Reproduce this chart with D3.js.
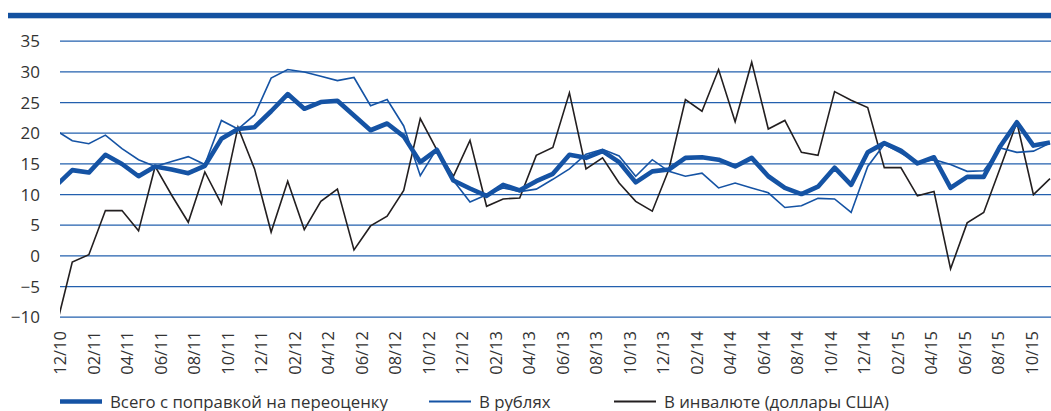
<!DOCTYPE html>
<html>
<head>
<meta charset="utf-8">
<script src="https://cdn.jsdelivr.net/npm/d3@7"></script>
<style>
  body { margin: 0; background: #fff; }
  svg { display: block; }
  text { font-family: "Open Sans", "Noto Sans", sans-serif; fill: #333; }
</style>
</head>
<body>
<div class="chart"></div>
<script>
/* months shown on the chart, 12/10 .. 12/15 */
const months = [
  "12/10",
  "01/11","02/11","03/11","04/11","05/11","06/11","07/11","08/11","09/11","10/11","11/11","12/11",
  "01/12","02/12","03/12","04/12","05/12","06/12","07/12","08/12","09/12","10/12","11/12","12/12",
  "01/13","02/13","03/13","04/13","05/13","06/13","07/13","08/13","09/13","10/13","11/13","12/13",
  "01/14","02/14","03/14","04/14","05/14","06/14","07/14","08/14","09/14","10/14","11/14","12/14",
  "01/15","02/15","03/15","04/15","05/15","06/15","07/15","08/15","09/15","10/15","11/15","12/15"
];

/* tick labels on the x axis (every second month) */
const tickLabels = [
  "12/10","02/11","04/11","06/11","08/11","10/11","12/11","02/12","04/12","06/12",
  "08/12","10/12","12/12","02/13","04/13","06/13","08/13","10/13","12/13","02/14",
  "04/14","06/14","08/14","10/14","12/14","02/15","04/15","06/15","08/15","10/15"
];

const yTicks = [-10, -5, 0, 5, 10, 15, 20, 25, 30, 35];

/* total, adjusted for revaluation */
const totalGrowth = [
  11.3, 13.9, 13.5, 16.4, 14.9, 12.9, 14.5, 14.0, 13.4, 14.6, 19.0, 20.6, 20.9,
  23.5, 26.3, 23.9, 25.0, 25.2, 22.8, 20.4, 21.5, 19.4, 15.2, 17.2, 12.2,
  10.9, 9.7, 11.5, 10.6, 12.1, 13.3, 16.4, 15.9, 17.0, 15.2, 11.9, 13.7,
  14.0, 15.9, 16.0, 15.6, 14.5, 15.9, 12.9, 11.0, 10.0, 11.2, 14.3, 11.5,
  16.8, 18.3, 17.1, 15.0, 16.0, 11.0, 12.8, 12.8, 17.8, 21.7, 17.9, 18.4
];

/* in roubles */
const rubGrowth = [
  20.4, 18.7, 18.2, 19.6, 17.4, 15.6, 14.5, 15.3, 16.1, 14.8, 22.0, 20.6, 22.9,
  28.9, 30.3, 29.9, 29.2, 28.5, 29.0, 24.4, 25.4, 21.1, 13.0, 17.4, 12.2,
  8.7, 9.9, 11.0, 10.4, 10.8, 12.4, 14.1, 16.5, 17.3, 16.2, 12.9, 15.6,
  13.7, 12.9, 13.4, 11.0, 11.8, 11.0, 10.2, 7.8, 8.1, 9.3, 9.2, 7.0,
  14.5, 18.1, 16.7, 15.1, 15.6, 14.8, 13.7, 13.8, 17.5, 16.8, 17.0, 18.3
];

/* in foreign currency (US dollars) */
const fxGrowth = [
  -12.0, -1.1, 0.1, 7.3, 7.3, 4.0, 14.5, 9.8, 5.4, 13.6, 8.4, 20.9, 14.1,
  3.8, 12.1, 4.2, 8.8, 10.8, 0.9, 4.8, 6.4, 10.6, 22.3, 17.2, 12.9,
  18.75, 8.0, 9.2, 9.35, 16.3, 17.6, 26.5, 14.1, 15.9, 11.8, 8.8, 7.2,
  14.0, 25.4, 23.5, 30.3, 21.8, 31.5, 20.6, 22.0, 16.8, 16.3, 26.7, 25.3,
  24.1, 14.3, 14.3, 9.7, 10.4, -2.2, 5.3, 7.0, 14.3, 21.7, 9.9, 12.5
];

const seriesNames = [
  "Всего с поправкой на переоценку",
  "В рублях",
  "В инвалюте (доллары США)"
];

/* chart dimensions */
const width = 1051;
const height = 411;
const plotLeft = 60;

const blue = "#1553a4";
const dark = "#231f20";

const svg = d3.select('.chart')
  .append('svg')
  .attr("width", width)
  .attr("height", height);

/* thick band on top */
svg.append("rect")
  .attr("x", 8)
  .attr("y", 12.8)
  .attr("width", width - 8)
  .attr("height", 5.5)
  .style("fill", "#1351a0");

/* scales */
const xScale = d3.scalePoint()
  .domain(months)
  .range([55.7, 1050]);

const xLabelScale = d3.scalePoint()
  .domain(tickLabels)
  .range([60, 1031.5]);

const yScale = d3.scaleLinear()
  .domain([-10, 35])
  .range([316.7, 40.7]);

/* gridlines + y labels */
const yAxis = d3.axisLeft(yScale)
  .tickValues(yTicks)
  .tickSize(-(width - plotLeft))
  .tickPadding(20)
  .tickFormat(d3.format("d"));

const yG = svg.append("g")
  .attr("class", "axis y-axis")
  .attr("transform", `translate(${plotLeft}, 0)`)
  .call(yAxis);

yG.select(".domain").remove();
yG.selectAll("line")
  .attr("stroke", "#2360ae")
  .attr("stroke-width", 1.2);
yG.selectAll("text")
  .style("font-size", "17px")
  .style("fill", "#333")
  .attr("x", 40 - plotLeft)
  .attr("dy", "0.36em");

/* x labels, rotated */
const xAxis = d3.axisBottom(xLabelScale)
  .tickSize(0);

const xG = svg.append("g")
  .attr("class", "axis x-axis")
  .attr("transform", "translate(0, 331)")
  .call(xAxis);

xG.select(".domain").remove();
xG.selectAll("text")
  .style("font-size", "16.5px")
  .style("fill", "#333")
  .attr("text-anchor", "end")
  .attr("transform", "rotate(-90)")
  .attr("x", 0)
  .attr("y", 0)
  .attr("dy", "0.36em");

/* clip the lines to the plot area */
svg.append("clipPath")
  .attr("id", "plot-clip")
  .append("rect")
  .attr("x", plotLeft)
  .attr("y", 0)
  .attr("width", width - plotLeft)
  .attr("height", height);

const line = d3.line()
  .x((d, i) => xScale(months[i]))
  .y(d => yScale(d));

const lines = svg.append("g")
  .attr("clip-path", "url(#plot-clip)");

lines.append("path")
  .datum(fxGrowth)
  .attr("d", line)
  .style("fill", "none")
  .style("stroke", dark)
  .style("stroke-width", 1.6)
  .style("stroke-linejoin", "miter");

lines.append("path")
  .datum(rubGrowth)
  .attr("d", line)
  .style("fill", "none")
  .style("stroke", blue)
  .style("stroke-width", 1.6);

lines.append("path")
  .datum(totalGrowth)
  .attr("d", line)
  .style("fill", "none")
  .style("stroke", blue)
  .style("stroke-width", 4.6)
  .style("stroke-linejoin", "round");

/* legend */
const legendItems = [
  {name: seriesNames[0], x: 60, color: blue, w: 4.6},
  {name: seriesNames[1], x: 429, color: blue, w: 1.8},
  {name: seriesNames[2], x: 614, color: dark, w: 1.8}
];

const legend = svg.append("g")
  .attr("class", "legend");

legend.selectAll("line")
  .data(legendItems)
  .enter()
  .append("line")
  .attr("x1", d => d.x)
  .attr("x2", d => d.x + 42)
  .attr("y1", 401.5)
  .attr("y2", 401.5)
  .style("stroke", d => d.color)
  .style("stroke-width", d => d.w);

legend.selectAll("text")
  .data(legendItems)
  .enter()
  .append("text")
  .attr("x", d => d.x + 50)
  .attr("y", 407.5)
  .style("font-size", "16.8px")
  .text(d => d.name);
</script>
</body>
</html>
